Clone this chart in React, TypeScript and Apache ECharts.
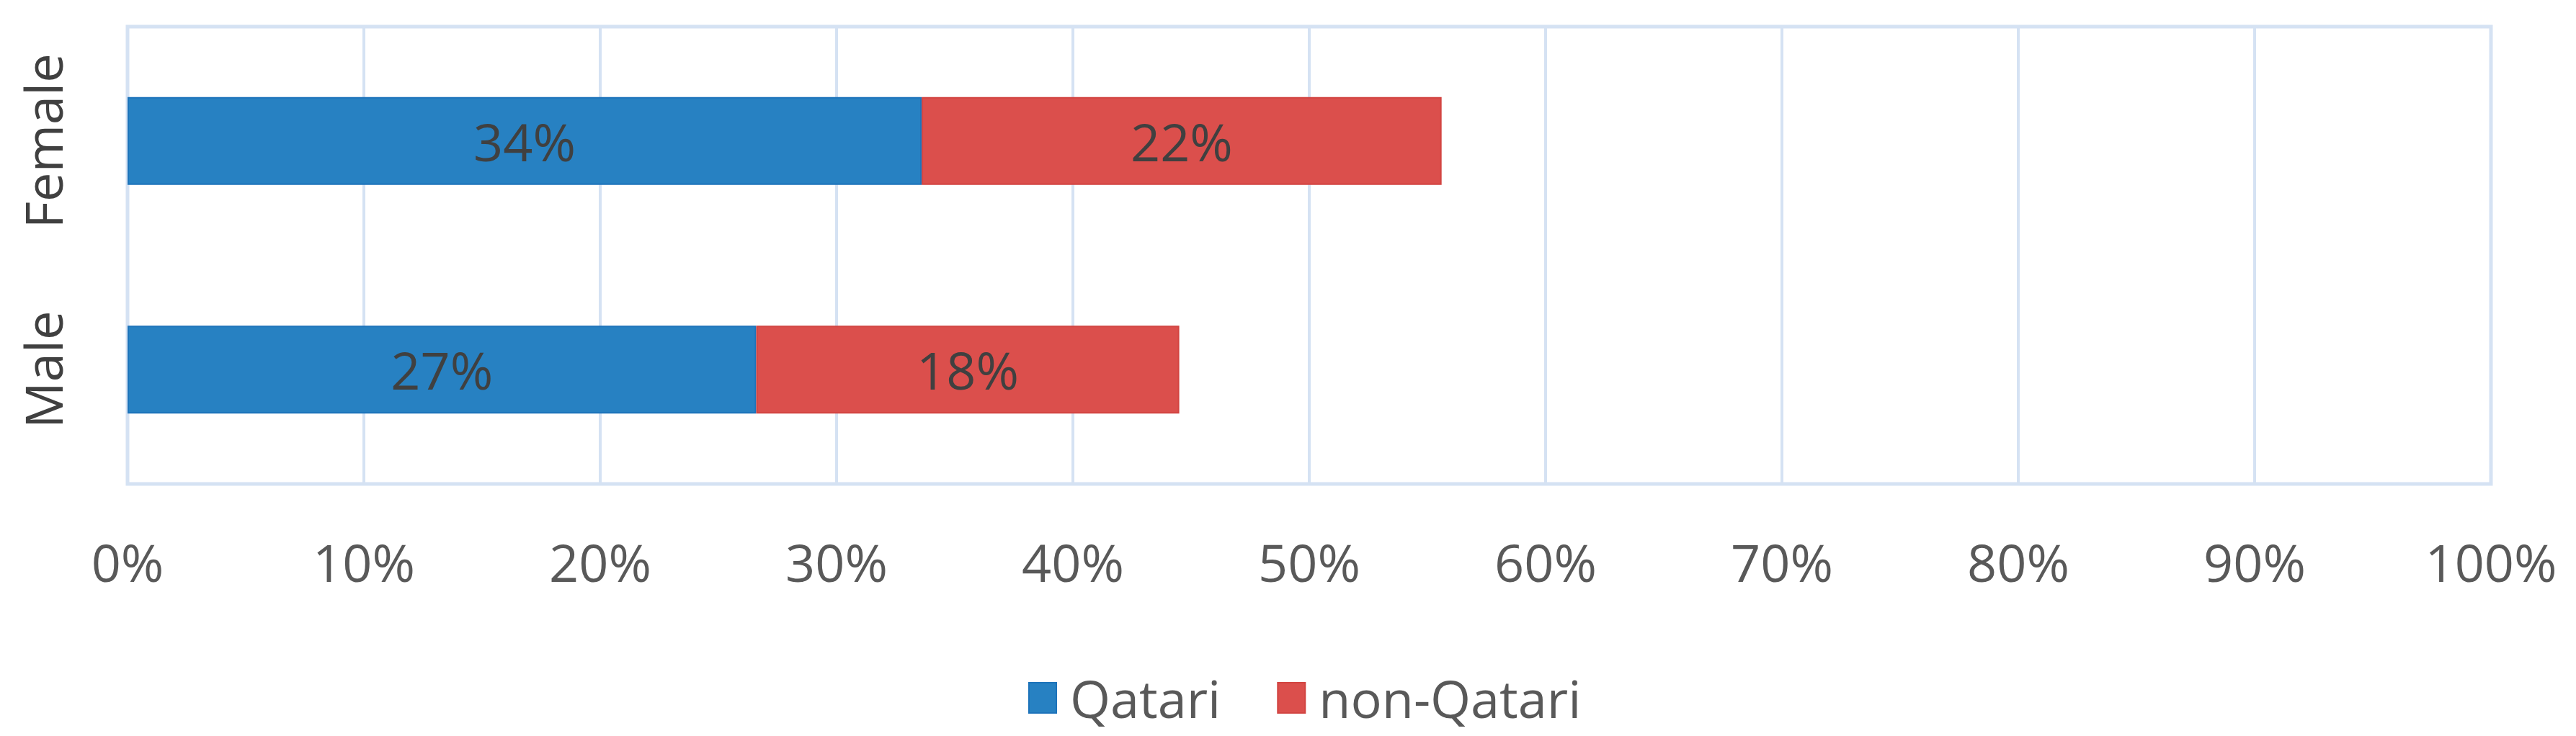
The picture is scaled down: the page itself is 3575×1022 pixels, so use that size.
import React, { useEffect, useRef } from "react";
import * as echarts from "echarts";

const categories = ["Male", "Female"];
const seriesNames = ["Qatari", "non-Qatari"];
const qatariValues = [26.6, 33.6];
const nonQatariValues = [17.9, 22.0];
const xTicks = { min: 0, max: 100, interval: 10 };

const FONT = "'Open Sans', 'Noto Sans', sans-serif";

export default function App() {
  const ref = useRef<HTMLDivElement>(null);
  useEffect(() => {
    document.body.style.margin = "0";
    if (!ref.current) return;
    const chart = echarts.init(ref.current, null, { renderer: "svg" });
    const labelFmt = (p: any) => Math.round(p.value) + "%";
    chart.setOption({
      animation: false,
      backgroundColor: "#ffffff",
      textStyle: { fontFamily: FONT },
      grid: {
        left: 177,
        right: 118,
        top: 37,
        bottom: 350,
        show: true,
        borderColor: "#d5e2f3",
        borderWidth: 5,
        containLabel: false,
      },
      legend: {
        data: seriesNames,
        left: 1422,
        top: 928,
        icon: "rect",
        itemWidth: 38,
        itemHeight: 42,
        itemGap: 78,
        textStyle: {
          fontSize: 72,
          color: "#595959",
          fontFamily: FONT,
          padding: [0, 0, 0, 14],
        },
      },
      xAxis: {
        type: "value",
        min: xTicks.min,
        max: xTicks.max,
        interval: xTicks.interval,
        axisLine: { show: false },
        axisTick: { show: false },
        axisLabel: {
          formatter: "{value}%",
          fontSize: 72,
          color: "#595959",
          margin: 72,
          fontFamily: FONT,
        },
        splitLine: { show: true, lineStyle: { color: "#d5e2f3", width: 4 } },
      },
      yAxis: {
        type: "category",
        data: categories,
        axisLine: { show: false },
        axisTick: { show: false },
        axisLabel: {
          rotate: 90,
          fontSize: 72,
          color: "#404040",
          margin: 82,
          fontFamily: FONT,
        },
        splitLine: { show: false },
      },
      series: [
        {
          name: seriesNames[0],
          type: "bar",
          stack: "total",
          barWidth: "38.5%",
          data: qatariValues,
          itemStyle: { color: "#2781c2", borderColor: "#1d73ba", borderWidth: 2 },
          label: {
            show: true,
            position: "inside",
            formatter: labelFmt,
            fontSize: 72,
            color: "#404040",
            fontFamily: FONT,
          },
        },
        {
          name: seriesNames[1],
          type: "bar",
          stack: "total",
          barWidth: "38.5%",
          data: nonQatariValues,
          itemStyle: { color: "#db4f4c", borderColor: "#d24441", borderWidth: 2 },
          label: {
            show: true,
            position: "inside",
            formatter: labelFmt,
            fontSize: 72,
            color: "#404040",
            fontFamily: FONT,
          },
        },
      ],
    });
    return () => chart.dispose();
  }, []);
  return <div ref={ref} style={{ width: 3575, height: 1022 }} />;
}
